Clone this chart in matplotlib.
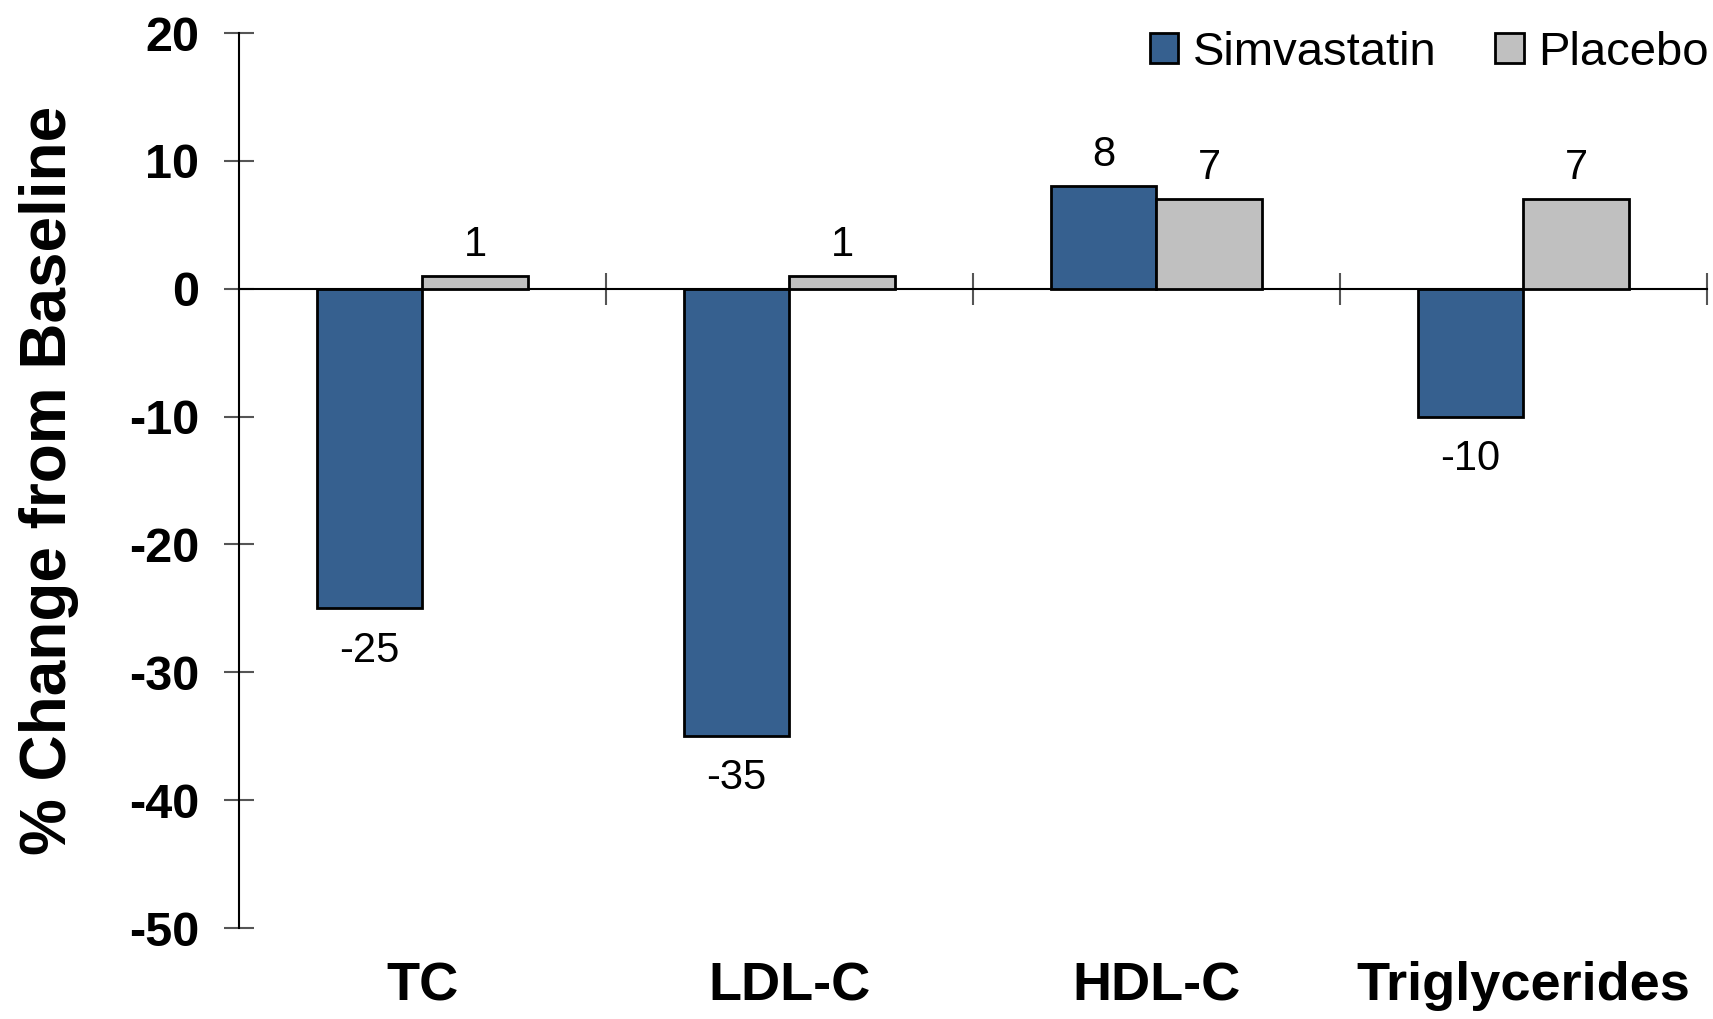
import matplotlib.pyplot as plt
import numpy as np

plt.rcParams['font.family'] = ['Liberation Sans', 'DejaVu Sans']

categories = ['TC', 'LDL-C', 'HDL-C', 'Triglycerides']
simvastatin = [-25, -35, 8, -10]
placebo = [1, 1, 7, 7]
series_names = ['Simvastatin', 'Placebo']
yticks = [20, 10, 0, -10, -20, -30, -40, -50]

blue = '#36608f'
grey = '#c0c0c0'

fig = plt.figure(figsize=(17.13, 10.19), dpi=100)
ax = fig.add_axes([0.1395, 0.0893, 0.857, 0.8783])

x = np.arange(len(categories)) + 0.5
w = 0.288
b1 = ax.bar(x - w / 2, simvastatin, w, color=blue, edgecolor='black', linewidth=2, label=series_names[0], zorder=3)
b2 = ax.bar(x + w / 2, placebo, w, color=grey, edgecolor='black', linewidth=2, label=series_names[1], zorder=3)

# value labels above positive bars, below negative ones
for bars, vals in [(b1, simvastatin), (b2, placebo)]:
    for rect, v in zip(bars, vals):
        cx = rect.get_x() + rect.get_width() / 2
        if v >= 0:
            ax.annotate(str(v), (cx, v), xytext=(0, 8), textcoords='offset points',
                        ha='center', va='bottom', fontsize=30)
        else:
            ax.annotate(str(v), (cx, v), xytext=(0, -16), textcoords='offset points',
                        ha='center', va='top', fontsize=30)

ax.set_xlim(0, 4)
ax.set_ylim(-50, 20)
ax.set_yticks(yticks)
ax.set_yticklabels([str(t) for t in yticks], fontsize=35, fontweight='bold')
ax.tick_params(axis='y', direction='inout', length=21, width=1.5, color='#555555', pad=18)

ax.set_xticks([1, 2, 3, 4])
ax.set_xticklabels([])
ax.tick_params(axis='x', direction='inout', length=23, width=1.5, color='#555555')

ax.spines['top'].set_visible(False)
ax.spines['right'].set_visible(False)
ax.spines['bottom'].set_position(('data', 0))
ax.spines['left'].set_linewidth(1.5)
ax.spines['bottom'].set_linewidth(1.5)

for xi, name in zip(x, categories):
    ax.text(xi, -0.065, name, transform=ax.get_xaxis_transform(), ha='center', va='center',
            fontsize=39, fontweight='bold')

ax.set_ylabel('% Change from Baseline', fontsize=46, fontweight='bold', labelpad=36)

ax.legend(loc='upper right', bbox_to_anchor=(1.03, 1.05), ncol=2, frameon=False,
          fontsize=34, handlelength=0.6, handleheight=0.6, handletextpad=0.3,
          columnspacing=1.25)

fig.savefig('out.png', dpi=100)
